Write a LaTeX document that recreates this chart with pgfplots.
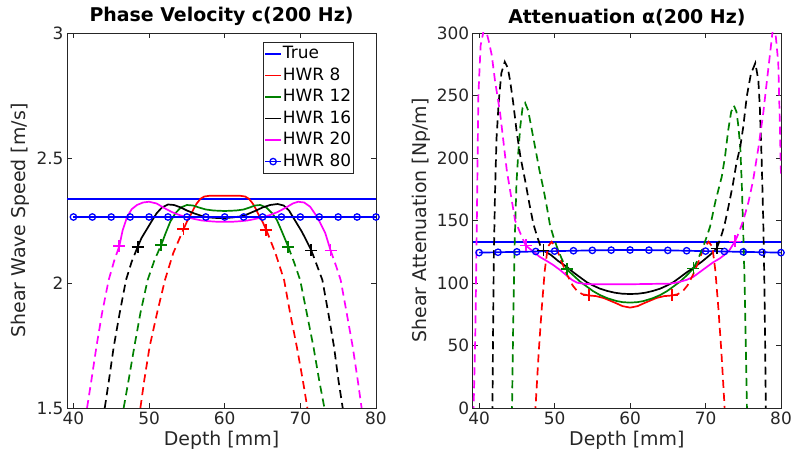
\documentclass[border=0pt]{standalone}
\usepackage{pgfplots}
\pgfplotsset{compat=1.18}
\usepackage{fontspec}
\setmainfont{DejaVu Sans}
\definecolor{mgreen}{rgb}{0,0.5,0}
\definecolor{mmag}{rgb}{1,0,1}
\definecolor{mred}{rgb}{1,0,0}
\definecolor{mblue}{rgb}{0,0,1}
\definecolor{mblack}{rgb}{0,0,0}
\definecolor{axgray}{rgb}{0.15,0.15,0.15}
\pgfplotsset{
  mystyle/.style={
    scale only axis, height=375bp, anchor=south west,
    xmin=39.15, xmax=80, xtick={40,50,...,80},
    tick align=inside, major tick length=5bp,
    axis line style={axgray, line width=0.7bp},
    tick style={axgray, line width=0.7bp},
    ticklabel style={font=\fontsize{17}{20}\selectfont, text=axgray},
    /pgf/number format/assume math mode=true,
    label style={font=\fontsize{19}{22}\selectfont, text=axgray},
    title style={font=\bfseries\fontsize{19}{22}\selectfont, yshift=-2bp},
    xlabel={Depth [mm]},
    every axis plot/.append style={line width=1.7bp},
    legend image code/.code={\draw[line width=1.7bp, ##1, mark repeat=2, mark phase=2] plot coordinates {(0bp,0bp) (8bp,0bp) (16bp,0bp)};},
  },
  dsh/.style={dash pattern=on 8bp off 5bp},
  pl/.style={only marks, mark=+, mark size=6bp, forget plot, line width=1.7bp},
}
\begin{document}
\begin{tikzpicture}
\useasboundingbox (0,0) rectangle (800bp,464bp);
% ---------------- Left: phase velocity ----------------
\begin{axis}[mystyle, at={(67bp,56bp)}, width=309bp,
  ymin=1.5, ymax=3, ytick={1.5,2,2.5,3},
  ylabel={Shear Wave Speed [m/s]},
  title={Phase Velocity c(200 Hz)},
  legend style={at={(0.634,0.976)}, anchor=north west, draw=axgray, line width=0.7bp,
    font=\fontsize{17}{20}\selectfont, inner xsep=1bp, inner ysep=1bp, row sep=0bp,
    nodes={inner sep=1bp, text height=14.5bp, text depth=5bp}},
  legend cell align=left,
]
\addplot[mblue, line width=1.7bp] coordinates {(39.15,2.335) (80,2.335)};
\addlegendentry{True}
\addplot[mred, line width=1.7bp] coordinates {(54.55,2.215) (55,2.245) (55.5,2.272) (55.9,2.297) (56.3,2.318) (56.8,2.337) (57.3,2.346) (58,2.349) (60,2.349) (62,2.349) (62.7,2.346) (63.2,2.337) (63.7,2.318) (64.1,2.297) (64.5,2.272) (65,2.245) (65.5,2.212)};
\addlegendentry{HWR 8}
\addplot[mgreen, line width=1.7bp] coordinates {(51.6,2.152) (52.2,2.2) (52.8,2.245) (53.5,2.28) (54.2,2.302) (55,2.312) (55.8,2.31) (56.6,2.302) (57.5,2.294) (58.5,2.29) (60,2.288) (61.5,2.29) (62.5,2.294) (63.3,2.302) (64,2.31) (64.7,2.312) (65.5,2.302) (66.3,2.278) (66.9,2.252) (67.5,2.21) (68.4,2.145)};
\addlegendentry{HWR 12}
\addplot[mblack, line width=1.7bp] coordinates {(48.5,2.145) (49,2.18) (49.7,2.215) (50.4,2.25) (51,2.279) (51.7,2.302) (52.5,2.314) (53.3,2.312) (54.2,2.302) (55,2.29) (56,2.278) (57,2.268) (58,2.262) (59,2.26) (60,2.26) (61,2.262) (62,2.266) (63,2.275) (64,2.288) (65,2.302) (66,2.312) (67,2.316) (67.8,2.31) (68.5,2.29) (69,2.265) (69.5,2.24) (70.2,2.205) (70.8,2.17) (71.45,2.13)};
\addlegendentry{HWR 16}
\addplot[mmag, line width=1.7bp] coordinates {(46.07,2.148) (46.5,2.21) (47.1,2.265) (47.7,2.295) (48.4,2.312) (49.2,2.322) (50,2.325) (51,2.318) (52,2.3) (53,2.284) (54,2.272) (55,2.263) (56,2.256) (57,2.25) (58,2.247) (59,2.245) (60,2.245) (61,2.245) (62,2.247) (63,2.25) (64,2.256) (65,2.263) (66,2.272) (67,2.284) (68,2.3) (69,2.318) (69.7,2.325) (70.5,2.322) (71.3,2.305) (72.2,2.265) (72.8,2.23) (73.3,2.199) (74,2.13)};
\addlegendentry{HWR 20}
\addplot[mblue, line width=1.7bp, mark=o, mark size=3.2bp, mark options={solid, line width=1.3bp}] coordinates {(40,2.264) (42.5,2.264) (45,2.264) (47.5,2.264) (50,2.264) (52.5,2.264) (55,2.264) (57.5,2.264) (60,2.264) (62.5,2.264) (65,2.264) (67.5,2.264) (70,2.264) (72.5,2.264) (75,2.264) (77.5,2.264) (80,2.264)};
\addlegendentry{HWR 80}
% dashed extensions
\addplot[mred, dsh, forget plot] coordinates {(48.85,1.5) (49.37,1.612) (50.07,1.745) (51.05,1.879) (52.1,2.012) (53.2,2.12) (54.55,2.215)};
\addplot[mred, dsh, forget plot] coordinates {(65.5,2.212) (66.7,2.12) (67.85,2.012) (68.65,1.879) (69.53,1.745) (70.32,1.612) (70.93,1.5)};
\addplot[mgreen, dsh, forget plot] coordinates {(46.64,1.5) (47.3,1.612) (48.05,1.745) (48.85,1.879) (49.81,2.012) (50.7,2.09) (51.6,2.152)};
\addplot[mgreen, dsh, forget plot] coordinates {(68.4,2.145) (69.2,2.08) (69.97,2.012) (70.85,1.879) (71.73,1.745) (72.48,1.612) (73.18,1.5)};
\addplot[mblack, dsh, forget plot] coordinates {(44.14,1.5) (44.7,1.612) (45.33,1.745) (46.11,1.879) (46.95,2.012) (47.7,2.085) (48.5,2.145)};
\addplot[mblack, dsh, forget plot] coordinates {(71.45,2.13) (72.2,2.07) (72.91,2.012) (73.7,1.879) (74.45,1.745) (75.03,1.612) (75.6,1.5)};
\addplot[mmag, dsh, forget plot] coordinates {(41.8,1.5) (42.38,1.612) (43.04,1.745) (43.78,1.879) (44.66,2.012) (45.4,2.09) (46.07,2.148)};
\addplot[mmag, dsh, forget plot] coordinates {(74,2.13) (74.7,2.07) (75.33,2.012) (76.13,1.879) (76.92,1.745) (77.58,1.612) (78.1,1.5)};
% plus markers
\addplot[pl, mred] coordinates {(54.55,2.215) (65.5,2.212)};
\addplot[pl, mgreen] coordinates {(51.6,2.152) (68.4,2.145)};
\addplot[pl, mblack] coordinates {(48.5,2.145) (71.45,2.13)};
\addplot[pl, mmag] coordinates {(46.07,2.148) (74,2.13)};
\end{axis}
% ---------------- Right: attenuation ----------------
\begin{axis}[mystyle, at={(472.7bp,56bp)}, width=308.3bp,
  ymin=0, ymax=300, ytick={0,50,...,300},
  ylabel={Shear Attenuation [Np/m]},
  title={Attenuation α(200 Hz)},
]
\addplot[mblue] coordinates {(39.15,132.8) (80,132.8)};
\addplot[mred] coordinates {(54.57,90) (55.5,89.5) (56.5,88) (57.3,86) (58.2,83.7) (59,81.5) (60,80.3) (61,81.5) (61.8,83.7) (62.7,86) (63.5,88) (64.5,89.5) (65.52,90)};
\addplot[mgreen] coordinates {(51.6,111) (52.5,106) (53.4,101) (54.3,97) (55.1,93.5) (56,90.4) (57,87.8) (58.2,85.6) (59,84.7) (60,84.3) (61,84.7) (61.8,85.6) (63,87.8) (64,90.4) (64.9,93.5) (65.7,97) (66.6,101) (67.5,106) (68.4,111.7)};
\addplot[mblack] coordinates {(48.52,126) (49.5,122.5) (50.5,117.5) (51.6,113) (52.5,108.5) (53.5,104) (54.3,100.5) (55.1,98) (56,95.5) (57,93.6) (58,92.2) (59,91.4) (60,91.2) (61,91.4) (62,92.2) (63,93.6) (64,95.5) (64.9,98) (65.7,100.5) (66.5,104) (67.5,108.5) (68.6,113) (69.6,117.5) (70.6,122.5) (71.48,127.7)};
\addplot[mmag] coordinates {(46.18,130) (47,126) (48,121) (49,117.5) (49.8,114.5) (50.7,110.5) (51.6,106) (52.3,102.5) (53,100.2) (54,99.3) (55,99) (60,99) (65.3,99.5) (66.3,100.5) (67.5,102.5) (68.4,105) (69.3,109) (70.2,113) (71,116.5) (71.9,119.7) (72.5,122.5) (73.2,126.5) (73.9,133.3)};
\addplot[mblue, mark=o, mark size=3.2bp, mark options={solid, line width=1.3bp}] coordinates {(40,124.3) (42.5,124.6) (45,124.9) (47.5,125.2) (50,125.5) (52.5,125.8) (55,126.1) (57.5,126.3) (60,126.4) (62.5,126.3) (65,126.1) (67.5,125.8) (70,125.5) (72.5,125.2) (75,124.9) (77.5,124.6) (80,124.3)};
% dashed extensions
\addplot[mred, dsh] coordinates {(47.42,-5) (47.9,45) (48.3,80) (48.7,110) (49.1,129) (49.6,133) (50.3,127) (51.0,116) (51.7,106) (52.4,98) (53.0,93.5) (53.7,91) (54.57,90)};
\addplot[mred, dsh] coordinates {(65.52,90) (66.3,91) (67.0,93.5) (67.6,98) (68.3,106) (69.0,116) (69.7,127) (70.4,133) (70.9,129) (71.3,110) (71.7,80) (72.1,45) (72.58,-5)};
\addplot[mgreen, dsh] coordinates {(44.35,-5) (44.5,60) (44.7,130) (44.95,180) (45.2,205) (45.45,225) (45.75,240) (46.1,244) (46.5,238) (47.0,222) (47.5,206) (48.0,190) (48.5,176) (49.0,160) (49.4,146) (49.9,136) (50.3,129) (50.9,120) (51.6,111)};
\addplot[mgreen, dsh] coordinates {(68.4,111.7) (69.0,119) (69.7,129) (70.6,145) (71.3,165) (72.15,185) (72.58,201) (73.0,222) (73.4,237) (73.75,242) (74.1,237) (74.34,226) (74.6,209) (74.8,180) (75.0,140) (75.2,95) (75.35,45) (75.5,-5)};
\addplot[mblack, dsh] coordinates {(41.76,-5) (41.85,60) (41.95,120) (42.1,170) (42.3,215) (42.6,245) (42.95,268) (43.4,277) (43.8,272) (44.1,262) (44.5,245) (45.0,220) (45.5,200) (46.1,182) (46.7,162) (47.2,147) (47.7,137) (48.1,130) (48.52,126)};
\addplot[mblack, dsh] coordinates {(71.48,127.7) (72.0,136) (72.5,146) (73.0,160) (73.6,178) (74.1,196) (74.6,209) (75.0,225) (75.46,249) (76.0,267) (76.6,276) (77.0,262) (77.2,240) (77.45,196) (77.65,150) (77.8,100) (77.9,50) (78.0,-5)};
\addplot[mmag, dsh] coordinates {(39.25,-5) (39.5,60) (39.7,150) (39.9,250) (40.2,290) (40.6,302) (41.0,300) (41.3,293) (41.68,282) (42.1,262) (42.78,236) (43.67,190) (44.77,150) (45.65,137) (46.18,130)};
\addplot[mmag, dsh] coordinates {(73.9,133.3) (74.4,140) (75.0,150) (75.7,165) (76.3,182) (77.0,208) (77.65,236) (78.1,260) (78.54,283) (78.9,302) (79.3,298) (79.64,276) (79.87,222) (80,185)};
% plus markers
\addplot[pl, mred] coordinates {(54.57,90) (65.52,90)};
\addplot[pl, mgreen] coordinates {(51.6,111) (68.4,111.7)};
\addplot[pl, mblack] coordinates {(48.52,126) (71.48,127.7)};
\addplot[pl, mmag] coordinates {(46.18,130) (73.9,133.3)};
\end{axis}
\end{tikzpicture}
\end{document}
